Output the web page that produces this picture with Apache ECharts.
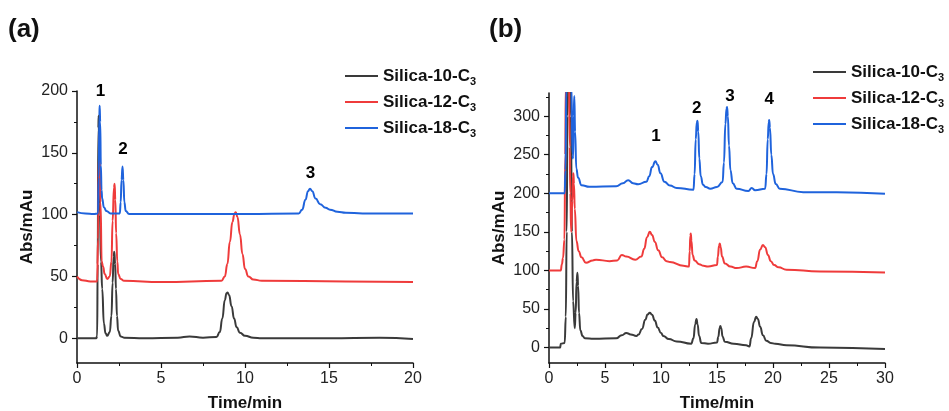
<!DOCTYPE html>
<html>
<head>
<meta charset="utf-8">
<title>chromatograms</title>
<script src="https://cdn.jsdelivr.net/npm/echarts@6.0.0/dist/echarts.min.js"></script>
<style>
  html, body { margin: 0; padding: 0; background: #fff; }
  #main { width: 949px; height: 411px; }
</style>
</head>
<body>
<div id="main"></div>
<script>
// series names
const names = ['Silica-10-C3', 'Silica-12-C3', 'Silica-18-C3']
const colors = ['#3a3a3a', '#ef3b3b', '#1f63dc']

// panel (a): [time/min, Abs/mAu]
const a10 = [[0,0],[1.15,0],[1.2,2],[1.23,60],[1.27,170],[1.29,180],[1.32,150],[1.36,100],[1.43,62],[1.5,40],[1.6,12],[1.7,4],[1.8,2],[1.95,5],[2.05,18],[2.12,45],[2.18,66],[2.22,70],[2.27,60],[2.32,40],[2.38,18],[2.45,6],[2.6,1.5],[2.8,0.5],[4,0],[6,0.5],[6.7,1.5],[7.5,0.5],[8.3,1],[8.5,5],[8.65,16],[8.8,31],[8.9,36.5],[8.96,37],[9.05,35],[9.2,26],[9.35,16],[9.5,9],[9.7,4.5],[10,2],[10.5,0.5],[11,0],[15,0],[18,0.5],[20,-0.5]]
const a12 = [[0,50],[0.3,47],[0.8,46],[1.2,46],[1.25,80],[1.3,150],[1.33,165],[1.36,145],[1.4,110],[1.47,62],[1.55,58],[1.65,52],[1.8,48],[1.95,50],[2.05,62],[2.12,95],[2.2,122],[2.24,125],[2.28,112],[2.33,85],[2.4,62],[2.45,52],[2.6,48],[2.8,46.5],[5,45.5],[8.6,46.5],[8.8,50],[8.95,60],[9.1,78],[9.25,94],[9.38,101],[9.45,102],[9.55,98],[9.7,84],[9.85,68],[10.0,56],[10.2,50],[10.5,47.5],[11,46.5],[16,46],[20,45.5]]
const a18 = [[0,102],[0.5,101],[1.0,100.5],[1.25,101],[1.29,130],[1.33,180],[1.35,188],[1.38,175],[1.42,140],[1.46,120],[1.5,113],[1.6,106],[1.75,103],[2.0,101],[2.55,101],[2.6,110],[2.65,128],[2.71,139],[2.76,128],[2.82,110],[2.9,103],[3.1,100.5],[6,100.5],[10,100.5],[13.2,101],[13.4,104],[13.6,112],[13.75,119],[13.87,121],[14.0,119],[14.2,113],[14.47,108.5],[14.8,105.5],[15.06,104],[15.5,102.3],[16,101.5],[17,101],[20,101]]

// panel (b)
const b10 = [[0,0],[1.0,0],[1.05,5],[1.4,6],[1.5,40],[1.58,150],[1.65,300],[1.8,420],[1.95,300],[2.05,150],[2.15,60],[2.3,25],[2.38,45],[2.46,85],[2.54,97],[2.6,80],[2.68,45],[2.8,22],[3.0,15],[3.2,12],[4,11.5],[6,12],[6.5,16],[6.9,19],[7.3,17],[7.8,15],[8.0,17],[8.3,24],[8.6,36],[8.8,43],[9.0,45],[9.2,42.5],[9.45,35],[9.7,26],[10.0,19],[10.2,15],[10.7,11],[11.4,8],[12.7,5],[12.9,12],[13.05,30],[13.17,37],[13.27,30],[13.4,15],[13.6,6],[14.2,5],[15,6.5],[15.12,14],[15.23,25],[15.3,28],[15.38,25],[15.5,14],[15.7,7.5],[16.5,5],[17.6,3],[17.9,1.5],[18.05,12],[18.3,33],[18.5,40],[18.65,37],[18.85,27],[19.1,16],[19.4,9],[19.8,6],[20.2,5],[21.2,3],[24.2,0],[30,-2]]
const b12 = [[0,100],[1.05,100],[1.15,108],[1.25,116],[1.38,140],[1.45,250],[1.5,340],[1.75,420],[1.85,260],[1.9,200],[1.98,150],[2.08,190],[2.14,222],[2.18,226],[2.23,212],[2.3,180],[2.45,138],[2.65,125],[2.9,117],[3.3,110],[3.9,113],[4.2,114],[5.4,112],[6.1,113],[6.5,120],[6.9,118],[7.7,114],[8.25,118],[8.5,128],[8.75,143],[9.0,150],[9.2,146],[9.45,137],[9.75,126],[10.1,117],[10.5,112],[10.8,111],[12,106],[12.5,105],[12.56,125],[12.62,145],[12.66,148],[12.72,138],[12.82,120],[13.0,113],[13.4,108],[13.8,106],[14.2,105],[15.0,107],[15.08,118],[15.18,132],[15.25,135],[15.33,130],[15.45,118],[15.7,109],[16.2,105],[16.75,103],[17.6,105],[18.4,103],[18.6,112],[18.85,127],[19.1,133],[19.3,130],[19.55,120],[19.8,112],[20.1,107],[20.5,104],[21.2,101],[24.2,98.7],[30,97.4]]
const b18 = [[0,200],[1.4,200],[1.47,230],[1.55,340],[1.8,420],[2.0,340],[2.1,250],[2.15,245],[2.2,300],[2.26,326],[2.33,280],[2.44,232],[2.6,220],[2.9,210.5],[3.6,208.5],[6.0,209],[6.6,213],[7.07,217],[7.5,213],[7.96,211.6],[8.7,215],[8.95,222],[9.2,234],[9.5,241.5],[9.7,237],[9.95,226],[10.3,215],[10.8,210],[11.4,207],[12.9,204.6],[13.0,225],[13.1,270],[13.2,292],[13.26,294],[13.33,280],[13.42,245],[13.55,222],[13.75,211],[14.0,208],[14.4,206],[15.0,208],[15.5,214.5],[15.62,240],[15.75,290],[15.85,310],[15.9,312],[15.97,300],[16.07,262],[16.2,230],[16.4,213],[16.75,206],[17.8,203],[18.1,207],[18.4,204],[19.3,206],[19.42,225],[19.53,270],[19.62,292],[19.66,295],[19.73,285],[19.85,250],[20.0,225],[20.25,212],[20.6,206],[22.7,201.5],[25.7,201.5],[30,199.5]]

// peak numbers [time, abs, text]
const peaksA = [[1.4,200,'1'],[2.73,153,'2'],[13.9,134,'3']]
const peaksB = [[9.55,275,'1'],[13.2,311,'2'],[16.15,326,'3'],[19.66,322,'4']]

// axis ticks
const yMajorA = [0, 50, 100, 150, 200]
const yMinorA = [25, 75, 125, 175]
const yMajorB = [0, 50, 100, 150, 200, 250, 300]
const yMinorB = [25, 75, 125, 175, 225, 275, 325]

const FONT = 'Liberation Sans, Arial, sans-serif'
const myChart = echarts.init(document.getElementById('main'))

function xAx(gridIndex, max) {
  return {
    type: 'value', gridIndex: gridIndex, min: 0, max: max, interval: 5,
    name: 'Time/min', nameLocation: 'middle', nameGap: 32,
    nameTextStyle: { fontFamily: FONT, fontSize: 17, fontWeight: 'bold', color: '#111' },
    axisLine: { onZero: false, lineStyle: { color: '#111', width: 1.5 } },
    axisTick: { length: 5, lineStyle: { color: '#111', width: 1.2 } },
    minorTick: { show: true, splitNumber: 2, length: 3, lineStyle: { color: '#111', width: 1 } },
    axisLabel: { margin: 8, fontFamily: FONT, fontSize: 16, color: '#222' },
    splitLine: { show: false }
  }
}
function yAx(gridIndex, min, max, major) {
  return {
    type: 'value', gridIndex: gridIndex, min: min, max: max,
    name: 'Abs/mAu', nameLocation: 'middle', nameGap: 41,
    nameTextStyle: { fontFamily: FONT, fontSize: 17, fontWeight: 'bold', color: '#111' },
    axisLine: { show: true, lineStyle: { color: '#111', width: 1.5 } },
    axisTick: { length: 5, customValues: major, lineStyle: { color: '#111', width: 1.2 } },
    axisLabel: { margin: 9, customValues: major, fontFamily: FONT, fontSize: 16, color: '#222' },
    splitLine: { show: false }
  }
}
function yMinor(gridIndex, min, max, minor) {
  return {
    type: 'value', gridIndex: gridIndex, min: min, max: max, position: 'left',
    axisLine: { show: false },
    axisTick: { show: true, length: 3, customValues: minor, lineStyle: { color: '#111', width: 1 } },
    axisLabel: { show: false },
    splitLine: { show: false }
  }
}
function lineSeries(name, data, i, xi, yi) {
  return {
    name: name, type: 'line', data: data, xAxisIndex: xi, yAxisIndex: yi,
    symbol: 'none', smooth: 0.5, smoothMonotone: 'x', clip: true,
    lineStyle: { color: colors[i], width: 2 }, itemStyle: { color: colors[i] }
  }
}
function peakSeries(data, xi, yi) {
  return {
    type: 'scatter', data: data, xAxisIndex: xi, yAxisIndex: yi, symbolSize: 0.01,
    itemStyle: { color: '#000' }, silent: true, clip: false, z: 5,
    label: { show: true, position: 'top', distance: 0, offset: [0, 9], formatter: p => p.value[2],
      fontFamily: FONT, fontSize: 17, fontWeight: 'bold', color: '#000', opacity: 1, textBorderWidth: 0 }
  }
}
function legendAt(left, top) {
  return {
    orient: 'vertical', left: left, top: top, padding: 0, itemWidth: 33, itemHeight: 2, itemGap: 5,
    icon: 'rect', data: names, selectedMode: false,
    formatter: n => '{n|' + n.slice(0, -1) + '}{s|' + n.slice(-1) + '}',
    textStyle: {
      rich: {
        n: { fontFamily: FONT, fontSize: 17, fontWeight: 'bold', color: '#111', lineHeight: 22 },
        s: { fontFamily: FONT, fontSize: 11, fontWeight: 'bold', color: '#111', lineHeight: 12, padding: [10, 0, 0, 0], verticalAlign: 'bottom' }
      }
    }
  }
}

var option = {
  backgroundColor: '#fff',
  animation: false,
  graphic: [
    { type: 'text', left: 8, top: 17, style: { text: '(a)', font: 'bold 26px ' + FONT, fill: '#111' } },
    { type: 'text', left: 489, top: 17, style: { text: '(b)', font: 'bold 26px ' + FONT, fill: '#111' } }
  ],
  legend: [legendAt(345, 66), legendAt(813, 62)],
  grid: [
    { left: 77, right: 536, top: 91, bottom: 48, outerBoundsMode: 'none' },
    { left: 549, right: 64, top: 93, bottom: 48, outerBoundsMode: 'none' }
  ],
  xAxis: [xAx(0, 20), xAx(1, 30)],
  yAxis: [
    yAx(0, -20, 200, yMajorA), yMinor(0, -20, 200, yMinorA),
    yAx(1, -20, 330, yMajorB), yMinor(1, -20, 330, yMinorB)
  ],
  series: [
    lineSeries(names[0], a10, 0, 0, 0),
    lineSeries(names[1], a12, 1, 0, 0),
    lineSeries(names[2], a18, 2, 0, 0),
    lineSeries(names[0], b10, 0, 1, 2),
    lineSeries(names[1], b12, 1, 1, 2),
    lineSeries(names[2], b18, 2, 1, 2),
    peakSeries(peaksA, 0, 0),
    peakSeries(peaksB, 1, 2)
  ]
}
myChart.setOption(option)
</script>
</body>
</html>
